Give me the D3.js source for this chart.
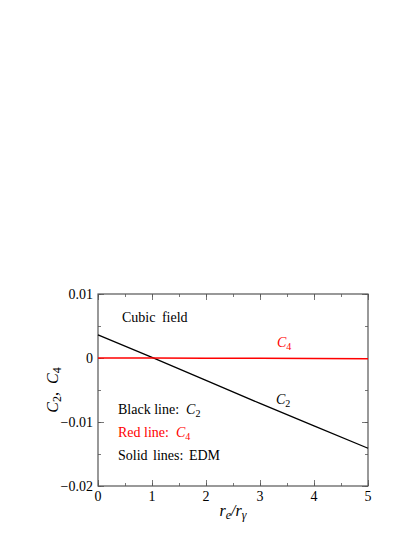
<!DOCTYPE html>
<html>
<head>
<meta charset="utf-8">
<title>C2, C4 vs re/rgamma</title>
<style>
body { margin: 0; background: #fff; }
svg text { font-family: "Liberation Serif", "Times New Roman", Times, "DejaVu Serif", serif; }
</style>
</head>
<body>
<script src="https://d3js.org/d3.v7.min.js"></script>
<script>
// values
var ratio = [0, 1, 2, 3, 4, 5];
var c2 = [0.0036, 0.0001, -0.0035, -0.0071, -0.0106, -0.0141];
var c4 = [0.0000, 0.0000, -0.00003, -0.00005, -0.00008, -0.0001];
var xTicks = [0, 1, 2, 3, 4, 5];
var yTicks = [0.01, 0, -0.01, -0.02];
var yTickLabels = ["0.01", "0", "\u22120.01", "\u22120.02"];

var W = 415, H = 537;
var margin = {top: 294, right: 47, bottom: 51, left: 98};
var width = W - margin.left - margin.right,
  height = H - margin.top - margin.bottom;

var svg = d3.select("body").append("svg")
  .attr("width", W).attr("height", H);
var g = svg.append("g")
  .attr("transform", "translate(" + margin.left + "," + margin.top + ")");

var x = d3.scaleLinear().domain([0, 5]).range([0, width]);
var y = d3.scaleLinear().domain([-0.02, 0.01]).range([height, 0]);

var frameColor = "#555";

// minor + major ticks, inward, on all four sides
function ticks(axis, vals, len) {
  return axis.tickValues(vals).tickSize(-len).tickFormat("");
}
var xMinor = d3.range(0, 5.01, 0.5), yMinor = d3.range(-0.02, 0.0101, 0.005);
var ax = [
  [d3.axisBottom(x), "translate(0," + height + ")", xMinor, 3],
  [d3.axisBottom(x), "translate(0," + height + ")", xTicks, 6],
  [d3.axisTop(x), null, xMinor, 3],
  [d3.axisTop(x), null, xTicks, 6],
  [d3.axisLeft(y), null, yMinor, 3],
  [d3.axisLeft(y), null, yTicks, 6],
  [d3.axisRight(y), "translate(" + width + ",0)", yMinor, 3],
  [d3.axisRight(y), "translate(" + width + ",0)", yTicks, 6]
];
ax.forEach(function(a) {
  var gg = g.append("g").call(ticks(a[0], a[2], a[3]));
  if (a[1]) gg.attr("transform", a[1]);
  gg.select(".domain").remove();
  gg.selectAll("line").attr("stroke", frameColor).attr("stroke-width", 0.8);
});

g.append("rect")
  .attr("width", width).attr("height", height)
  .attr("fill", "none").attr("stroke", frameColor).attr("stroke-width", 1.2);

// tick labels
g.selectAll(".xl").data(xTicks).enter().append("text")
  .attr("x", function(d) { return x(d); })
  .attr("y", height + 15)
  .attr("text-anchor", "middle")
  .style("font-size", "14px")
  .text(function(d) { return d; });

g.selectAll(".yl").data(yTicks).enter().append("text")
  .attr("x", -5)
  .attr("y", function(d) { return y(d) + 4.5; })
  .attr("text-anchor", "end")
  .style("font-size", "14px")
  .text(function(d, i) { return yTickLabels[i]; });

// lines
var line = d3.line()
  .x(function(d) { return x(d[0]); })
  .y(function(d) { return y(d[1]); });

g.append("path")
  .datum(d3.zip(ratio, c2))
  .attr("d", line).attr("fill", "none")
  .attr("stroke", "#000").attr("stroke-width", 1.3);

g.append("path")
  .datum(d3.zip(ratio, c4))
  .attr("d", line).attr("fill", "none")
  .attr("stroke", "#f00").attr("stroke-width", 1.5);

// annotations
function sub(base, s, color, px, py, size) {
  var tx = svg.append("text").attr("x", px).attr("y", py)
    .attr("fill", color).style("font-size", size + "px");
  if (base) tx.append("tspan").text(base);
  tx.append("tspan").style("font-style", "italic").text("C");
  tx.append("tspan").attr("dy", 3).style("font-size", (size * 0.72) + "px").text(s);
  return tx;
}

svg.append("text").attr("x", 122).attr("y", 322)
  .style("font-size", "14px").style("word-spacing", "3px").text("Cubic field");

sub("Black line:\u00a0\u00a0", "2", "#000", 118, 414, 14);
sub("Red line:\u00a0\u00a0", "4", "#f00", 118, 437, 14);
svg.append("text").attr("x", 118).attr("y", 460)
  .style("font-size", "14px").style("word-spacing", "2px").text("Solid lines: EDM");

sub(null, "4", "#f00", 277, 347, 14);
sub(null, "2", "#000", 276, 404, 14);

// x axis title
var xt = svg.append("text").attr("x", 233).attr("y", 516)
  .attr("text-anchor", "middle").style("font-size", "16px").style("font-style", "italic");
xt.append("tspan").text("r");
xt.append("tspan").attr("dy", 3).style("font-size", "12px").text("e");
xt.append("tspan").attr("dy", -3).text("/r");
xt.append("tspan").attr("dy", 3).style("font-size", "12px").text("\u03b3");

// y axis title
var yt = svg.append("text")
  .attr("transform", "translate(58," + 390 + ") rotate(-90)")
  .attr("text-anchor", "middle").style("font-size", "16px");
yt.append("tspan").style("font-style", "italic").text("C");
yt.append("tspan").attr("dy", 3).style("font-size", "12px").text("2");
yt.append("tspan").attr("dy", -3).text(",\u00a0\u00a0");
yt.append("tspan").style("font-style", "italic").text("C");
yt.append("tspan").attr("dy", 3).style("font-size", "12px").text("4");
</script>
</body>
</html>
